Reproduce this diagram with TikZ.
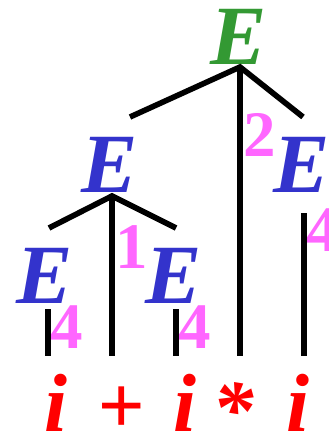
\documentclass[tikz,border=0pt]{standalone}
\usepackage{fontspec}
\setmainfont{Liberation Serif}
\usetikzlibrary{positioning}
\definecolor{rootgreen}{HTML}{339933}
\definecolor{ntblue}{HTML}{3333CC}
\definecolor{rulepink}{HTML}{FF66FF}
\definecolor{tokred}{HTML}{FF0000}

\begin{document}
\begin{tikzpicture}[
    x=0.02cm, y=-0.02cm,
    nt/.style={text=#1, font=\fontsize{48}{48}\selectfont\bfseries\itshape, inner sep=0pt},
    rulenum/.style={text=rulepink, font=\fontsize{37}{37}\selectfont\bfseries, inner sep=0pt},
    tok/.style={text=tokred, font=\fontsize{47}{47}\selectfont\bfseries\itshape, inner sep=0pt},
    edge/.style={line width=3.2pt, line join=miter}
]
\useasboundingbox (0,0) rectangle (328,435);

% nonterminals
\node[nt=rootgreen] (e0) at (239,37)  {E};
\node[nt=ntblue]    (e1) at (110,165) {E};
\node[nt=ntblue]    (e2) at (302,165) {E};
\node[nt=ntblue]    (e3) at (45,276)  {E};
\node[nt=ntblue]    (e4) at (174,276) {E};

% rule numbers
\node[rulenum] (r2)  at (260,135) {2};
\node[rulenum] (r1)  at (132,247) {1};
\node[rulenum] (r4a) at (67,327)  {4};
\node[rulenum] (r4b) at (195,327) {4};
\node[rulenum] (r4c) at (323,230) {4};

% input tokens
\node[tok] (t1) at (56,403)  {i};
\node[tok] (t2) at (121,410) {+};
\node[tok] (t3) at (185,403) {i};
\node[tok] (t4) at (233,410) {*};
\node[tok] (t5) at (298,403) {i};

% branch points
\coordinate (j0) at (240,67);
\coordinate (j0l) at (130,117);
\coordinate (j0r) at (303,117);
\coordinate (j1) at (112,196);
\coordinate (j1l) at (49,228);
\coordinate (j1r) at (176,228);
\coordinate (s3) at (48,309);
\coordinate (s4) at (176,309);
\coordinate (s2) at (304,213);
\coordinate (b1) at (48,356);
\coordinate (b2) at (112,356);
\coordinate (b3) at (176,356);
\coordinate (b4) at (240,356);
\coordinate (b5) at (304,356);

\draw[edge] (j0l) -- (j0) -- (j0r);
\draw[edge] (j0) -- (b4);
\draw[edge] (j1l) -- (j1) -- (j1r);
\draw[edge] (j1) -- (b2);
\draw[edge] (s3) -- (b1);
\draw[edge] (s4) -- (b3);
\draw[edge] (s2) -- (b5);
\end{tikzpicture}
\end{document}
